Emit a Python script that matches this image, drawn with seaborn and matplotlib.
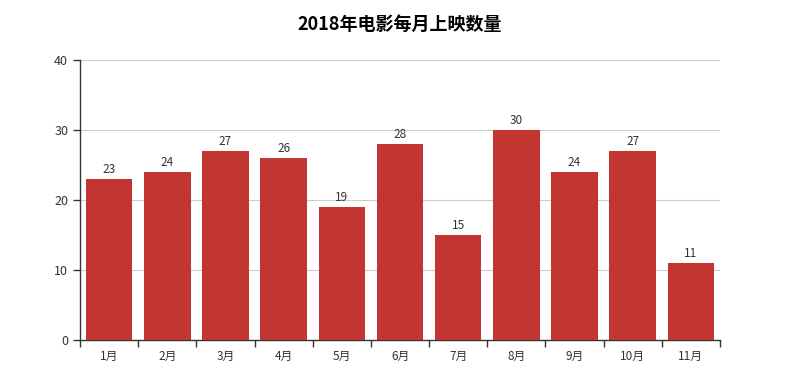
import matplotlib
matplotlib.use("Agg")
import matplotlib.pyplot as plt
import seaborn as sns
import pandas as pd
import numpy as np

months = ["1月", "2月", "3月", "4月", "5月", "6月", "7月", "8月", "9月", "10月", "11月"]
counts = [23, 24, 27, 26, 19, 28, 15, 30, 24, 27, 11]
title = "2018年电影每月上映数量"

sns.set_theme(style="white")
plt.rcParams['font.family'] = ['Noto Sans CJK SC', 'DejaVu Sans']

df = pd.DataFrame({"month": months, "count": counts})

fig = plt.figure(figsize=(8, 3.65), dpi=100)
ax = fig.add_axes([0.1, 0.0685, 0.8, 0.767])

sns.barplot(data=df, x="month", y="count", color="#c23531", saturation=1,
            width=0.8, ax=ax, zorder=3, linewidth=0, edgecolor="none")

for i, v in enumerate(counts):
    ax.text(i, v + 0.5, str(v), ha="center", va="bottom", fontsize=8.5, color="#333333")

ax.set_xlim(-0.5, len(months) - 0.5)
ax.set_ylim(0, 40)
ax.set_yticks([0, 10, 20, 30, 40])
ax.yaxis.grid(True, color="#cccccc", linewidth=0.8, zorder=0)
ax.set_axisbelow(True)
ax.set_xlabel("")
ax.set_ylabel("")

for s in ["top", "right"]:
    ax.spines[s].set_visible(False)
ax.spines["left"].set_color("#333333")
ax.spines["bottom"].set_color("#333333")
ax.spines["left"].set_linewidth(1)
ax.spines["bottom"].set_linewidth(1)

# x ticks between categories
ax.set_xticks(np.arange(len(months)))
ax.set_xticklabels(months, fontsize=8.5, color="#333333")
ax.tick_params(axis="x", which="major", length=0, pad=7, bottom=True)
ax.set_xticks(np.arange(-0.5, len(months)), minor=True)
ax.tick_params(axis="x", which="minor", length=5, width=1, color="#333333",
               direction="out", bottom=True)
ax.tick_params(axis="y", length=5, width=1, color="#333333", labelsize=9,
               labelcolor="#333333", left=True, direction="out")

fig.suptitle(title, x=0.5, y=0.96, fontsize=13, fontweight="bold", color="#000000")

fig.savefig("out.png", dpi=100, facecolor="white")
